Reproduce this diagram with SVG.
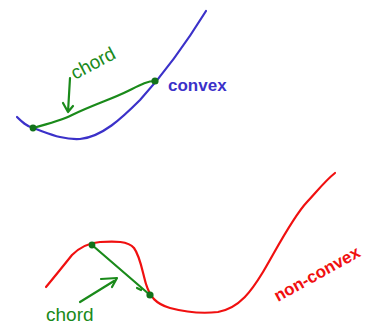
<svg xmlns="http://www.w3.org/2000/svg" width="375" height="326" viewBox="0 0 375 326">
<style>
.ln{fill:none;stroke-width:2.2;stroke-linecap:round;stroke-linejoin:round}
.blue{stroke:#3b31c9}
.red{stroke:#f01010}
.grn{stroke:#1a8a1a}
.dot{fill:#12721a}
.t{font-family:"Liberation Sans",Arial,sans-serif}
</style>
<rect width="375" height="326" fill="#fff"/>
<g id="convex-curve">
<path class="ln blue" d="M17,117 C22,122 26,126 33,128 C48,133 62,140 80,139 C102,137 122,118 140,100 C160,78 185,45 206,11"/>
</g>
<g id="convex-chord">
<path class="ln grn" d="M33,128 C48,124 62,120 72,115 C95,104 112,99 128,91 C140,85 147,81 155,81"/>
<circle class="dot" cx="33" cy="128" r="3.4"/>
<circle class="dot" cx="155" cy="81" r="3.6"/>
<path class="ln grn" stroke-width="1.6" d="M70,78 L68,112 M63,103 L68,112 L73,106"/>
<text class="t" x="0" y="0" font-size="19" fill="#1a8a1a" transform="translate(75,80) rotate(-28)">chord</text>
</g>
<text class="t" x="168" y="91" font-size="17" font-weight="bold" fill="#3b31c9">convex</text>
<g id="nonconvex-curve">
<path class="ln red" d="M46,287 C56,275 64,265 72,255 C80,247 88,243 100,242 C115,241 128,241 134,248 C140,256 142,270 146,284 C150,297 156,304 170,308 C185,312 200,314 218,312 C240,308 252,290 263,272 C275,252 292,218 307,202 C318,190 326,180 335,173"/>
</g>
<g id="nonconvex-chord">
<path class="ln grn" d="M92,245 L150,295 M137,288 L141,290"/>
<circle class="dot" cx="92" cy="245" r="3.4"/>
<circle class="dot" cx="150" cy="295" r="3.6"/>
<path class="ln grn" stroke-width="1.4" d="M80,302 L114,281 M101,279 L117,278 L112,287"/>
<text class="t" x="46" y="321" font-size="19" fill="#1a8a1a">chord</text>
</g>
<text class="t" x="0" y="0" font-size="17" font-weight="bold" fill="#f01010" transform="translate(278,302) rotate(-29)">non-convex</text>
</svg>
